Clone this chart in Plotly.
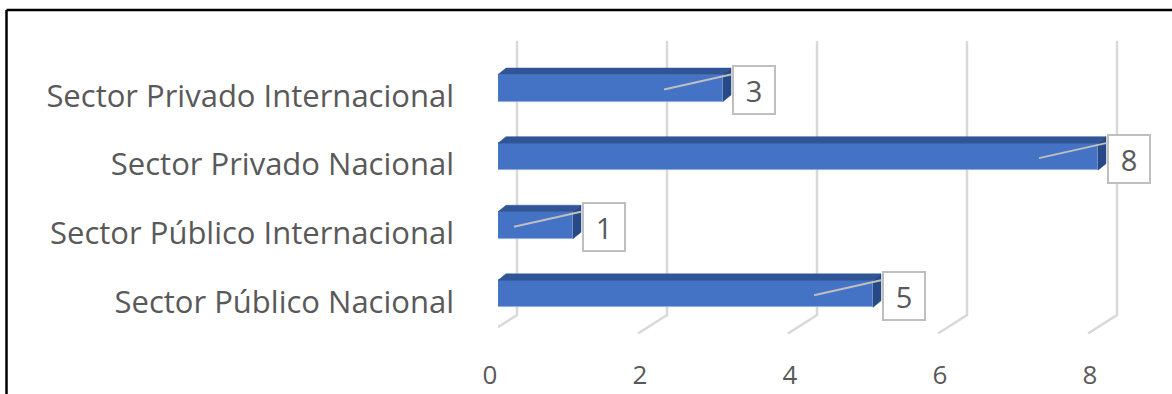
import plotly.graph_objects as go

# Data
categories = ["Sector Público Nacional", "Sector Público Internacional",
              "Sector Privado Nacional", "Sector Privado Internacional"]
values = [5, 1, 8, 3]
x_ticks = [0, 2, 4, 6, 8]

# Canvas and plot-area geometry (pixels)
W, H = 1172, 394
M_L, M_R, M_T, M_B = 498, 24, 40, 59
PX_X = 75.0                                # pixels per x unit
X_MAX = (W - M_L - M_R) / PX_X
Y_RANGE = [-0.6, 3.7]
PX_Y = (H - M_T - M_B) / (Y_RANGE[1] - Y_RANGE[0])

# 3D look: bar depth offsets and back-wall offsets, in pixels
DEPTH_X, DEPTH_Y = 8, 6.5
BAR_H_PX = 27
WALL_DX = 19
FLOOR_DX = -10

FRONT = "#4472c4"
TOP = "#2f5597"
SIDE = "#274a87"
GRID = "#d9d9d9"
TEXT = "#595959"
FONT = "Open Sans"

def ux(px):
    return px / PX_X

def uy(px):
    return px / PX_Y

bar_w = uy(BAR_H_PX)
dx, dy = ux(DEPTH_X), uy(DEPTH_Y)
pos = list(range(len(categories)))

fig = go.Figure()

# Back wall gridlines bending onto the floor
shapes = []
y_top = Y_RANGE[1] - uy(1)
y_corner = Y_RANGE[0] + uy(20)
y_floor = Y_RANGE[0] + uy(1.5)
for t in x_ticks:
    xw = t + ux(WALL_DX)
    xf = t + ux(FLOOR_DX)
    shapes.append(dict(type="path", xref="x", yref="y", layer="below",
                       path=f"M {xw},{y_top} L {xw},{y_corner} L {xf},{y_floor}",
                       line=dict(color=GRID, width=2.5)))

# Front faces
fig.add_trace(go.Bar(
    x=values, y=pos, orientation="h", width=bar_w,
    marker=dict(color=FRONT, line=dict(color="#8faadc", width=0.8)),
    hoverinfo="skip", showlegend=False,
))

# Top and side faces
for v, c in zip(values, pos):
    top = c + bar_w / 2
    bot = c - bar_w / 2
    fig.add_trace(go.Scatter(
        x=[0, v, v + dx, dx, 0], y=[top, top, top + dy, top + dy, top],
        fill="toself", fillcolor=TOP, mode="lines",
        line=dict(color=TOP, width=0.5), hoverinfo="skip", showlegend=False))
    fig.add_trace(go.Scatter(
        x=[v, v + dx, v + dx, v, v], y=[bot, bot + dy, top + dy, top, bot],
        fill="toself", fillcolor=SIDE, mode="lines",
        line=dict(color=SIDE, width=0.5), hoverinfo="skip", showlegend=False))

# Leader lines and value boxes
annotations = []
for v, c in zip(values, pos):
    top = c + bar_w / 2
    fig.add_trace(go.Scatter(
        x=[v - ux(59), v + dx], y=[c - uy(1.5), top],
        mode="lines", line=dict(color="#bfbfbf", width=2),
        hoverinfo="skip", showlegend=False))
    annotations.append(dict(
        x=v, y=c, xref="x", yref="y", text=str(v), showarrow=False,
        xanchor="left", yanchor="middle", xshift=DEPTH_X + 1, yshift=-2,
        width=40, height=46, borderpad=0, borderwidth=2,
        bordercolor="#bfbfbf", bgcolor="white",
        font=dict(family=FONT, size=29, color=TEXT)))

# Outer frame: top and left edges
px_to_paper_x = lambda p: (p - M_L) / (W - M_L - M_R)
px_to_paper_y = lambda p: (H - M_B - p) / (H - M_T - M_B)
shapes.append(dict(type="line", xref="paper", yref="paper",
                   x0=px_to_paper_x(6.5), x1=px_to_paper_x(W + 5),
                   y0=px_to_paper_y(10), y1=px_to_paper_y(10),
                   line=dict(color="black", width=2.5)))
shapes.append(dict(type="line", xref="paper", yref="paper",
                   x0=px_to_paper_x(6.5), x1=px_to_paper_x(6.5),
                   y0=px_to_paper_y(10), y1=px_to_paper_y(H + 5),
                   line=dict(color="black", width=2.5)))

fig.update_layout(
    width=W, height=H,
    margin=dict(l=M_L, r=M_R, t=M_T, b=M_B, pad=0, autoexpand=False),
    paper_bgcolor="white", plot_bgcolor="white",
    shapes=shapes, annotations=annotations,
    bargap=0, showlegend=False,
    xaxis=dict(range=[0, X_MAX], tickvals=x_ticks, ticktext=[str(t) for t in x_ticks],
               showgrid=False, zeroline=False, showline=False, ticks="",
               ticklabelstandoff=22, ticklabelshift=-8, automargin=False,
               tickfont=dict(family=FONT, size=26, color=TEXT), fixedrange=True),
    yaxis=dict(range=Y_RANGE, tickvals=pos, ticktext=categories,
               showgrid=False, zeroline=False, showline=False, ticks="",
               ticklabelstandoff=43, ticklabelshift=8, automargin=False,
               tickfont=dict(family=FONT, size=31, color=TEXT), fixedrange=True),
)

fig.write_html("out.html")
